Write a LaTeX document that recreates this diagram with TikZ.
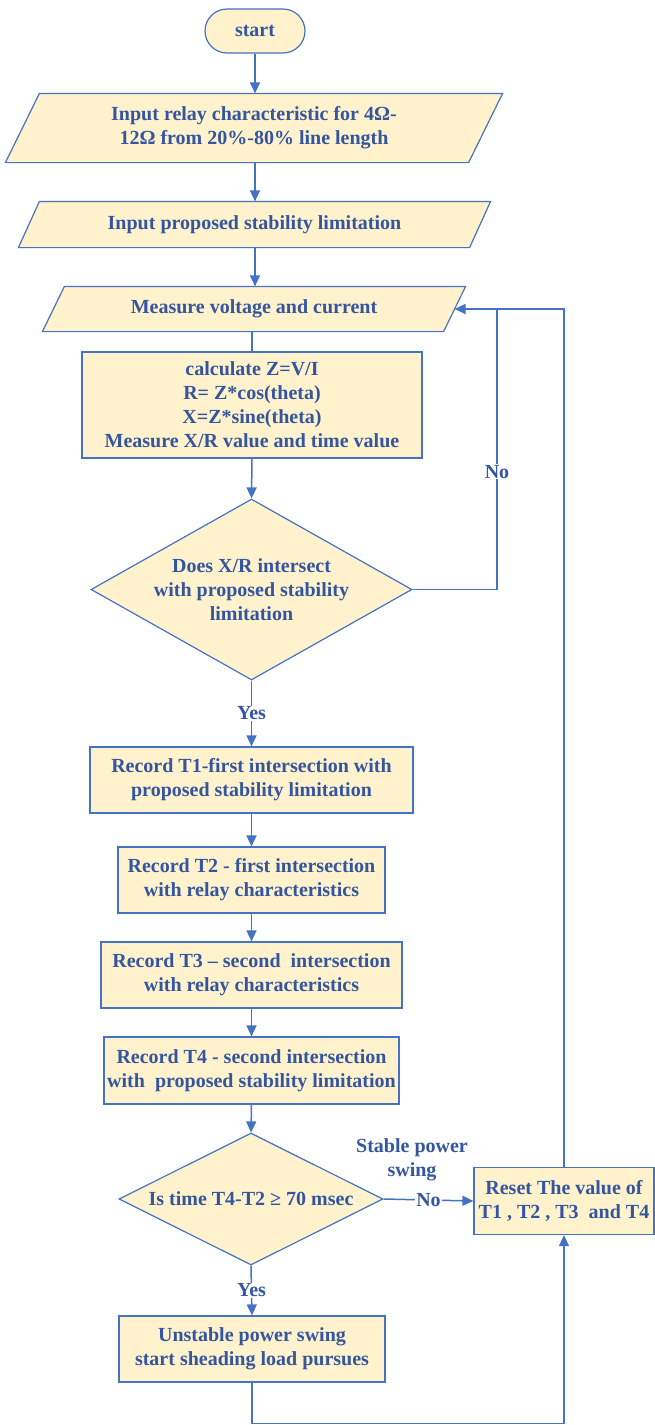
\documentclass[tikz,border=0pt]{standalone}
\usepackage{fontspec}
\setmainfont{Liberation Serif}
\usetikzlibrary{shapes.geometric,arrows.meta,calc,backgrounds}

\definecolor{lineblue}{RGB}{68,114,196}
\definecolor{txtblue}{RGB}{52,86,160}
\definecolor{boxfill}{RGB}{255,242,204}

\tikzset{
  base/.style={draw=lineblue, line width=1.2pt, fill=boxfill, text=txtblue,
    font=\fontsize{20}{24}\selectfont\bfseries, align=center, inner sep=0pt},
  terminal/.style={base, rectangle, rounded corners=22pt, minimum width=100, minimum height=44},
  process/.style={base, rectangle},
  inout/.style={base, rectangle, draw=none, fill=none},
  slanted/.style={draw=lineblue, line width=1.2pt, fill=boxfill},
  decision/.style={base, diamond},
  arrow/.style={draw=lineblue, line width=1.5pt, -{Triangle[length=11pt,width=10pt]}},
  link/.style={draw=lineblue, line width=1.5pt},
  lbl/.style={text=txtblue, font=\fontsize{20}{24}\selectfont\bfseries, align=center,
    fill=white, inner sep=1pt}
}

\begin{document}
\begin{tikzpicture}[x=1pt,y=1pt]
  \useasboundingbox (0,0) rectangle (655,-1425);

  % main column
  \node[terminal] (start) at (255,-31) {start};
  \node[inout, minimum width=462, minimum height=68] (inrelay) at (254,-128)
    {Input relay characteristic for 4Ω-\\12Ω from 20\%-80\% line length};
  \node[inout, minimum width=450, minimum height=45] (inlimit) at (254.5,-224.5)
    {Input proposed stability limitation};
  \node[inout, minimum width=400, minimum height=44] (measure) at (254,-309)
    {Measure voltage and current};
  \node[process, minimum width=340, minimum height=106] (calc) at (252,-405)
    {calculate Z=V/I\\R= Z*cos(theta)\\X=Z*sine(theta)\\Measure X/R value and time value};
  \node[decision, aspect=1.77, minimum width=321, minimum height=181] (cross) at (251.5,-589.5)
    {Does X/R intersect\\with proposed stability\\limitation};
  \node[process, minimum width=323, minimum height=66] (rec1) at (251.5,-780)
    {Record T1-first intersection with\\proposed stability limitation};
  \node[process, minimum width=267, minimum height=66] (rec2) at (251.5,-880)
    {Record T2 - first intersection\\with relay characteristics};
  \node[process, minimum width=301, minimum height=66] (rec3) at (251.5,-975)
    {Record T3 -- second\ \ intersection\\with relay characteristics};
  \node[process, minimum width=295, minimum height=67] (rec4) at (251.5,-1070.5)
    {Record T4 - second intersection\\with\ \ proposed stability limitation};
  \node[decision, aspect=2, minimum width=264, minimum height=132] (timechk) at (251,-1199)
    {Is time T4-T2 ≥ 70 msec};
  \node[process, minimum width=266, minimum height=66] (unstable) at (252,-1349)
    {Unstable power swing\\start sheading load pursues};

  % input/output parallelograms behind their texts
  \begin{scope}[on background layer]
    \foreach \n/\s in {inrelay/17, inlimit/10.5, measure/11}
      \draw[slanted] ($(\n.north west)+(\s,0)$) -- ($(\n.north east)+(\s,0)$)
        -- ($(\n.south east)-(\s,0)$) -- ($(\n.south west)-(\s,0)$) -- cycle;
  \end{scope}

  % reset branch
  \node[process, minimum width=180, minimum height=67] (reset) at (564,-1201)
    {Reset The value of\\T1 , T2 , T3\ \ and T4};
  \node[lbl, fill=none] (stable) at (412,-1160) {Stable power\\swing};
  \coordinate (nojoin) at (497,-309);
  \coordinate (loopbot) at (252,-1423.5);

  % connectors
  \draw[arrow] (start.south) -- (start.south |- inrelay.north);
  \draw[arrow] (start.south |- inrelay.south) -- (start.south |- inlimit.north);
  \draw[arrow] (start.south |- inlimit.south) -- (start.south |- measure.north);
  \draw[link] (calc.north |- measure.south) -- (calc.north);
  \draw[arrow] (calc.south) -- (cross.north);
  \draw[arrow] (cross.south) -- node[lbl]{Yes} (rec1.north);
  \draw[arrow] (rec1.south) -- (rec2.north);
  \draw[arrow] (rec2.south) -- (rec3.north);
  \draw[arrow] (rec3.south) -- (rec4.north);
  \draw[arrow] (rec4.south) -- (timechk.north);
  \draw[arrow] (timechk.south) -- node[lbl]{Yes} (unstable.north);
  \draw[arrow] (timechk.east) -- node[lbl]{No} (reset.west);
  \draw[link] (cross.east) -| node[lbl, pos=0.71]{No} (nojoin);
  \draw[arrow] (reset.north) |- (measure.east);
  \draw[arrow] (unstable.south) -- (loopbot) -| (reset.south);
\end{tikzpicture}
\end{document}
